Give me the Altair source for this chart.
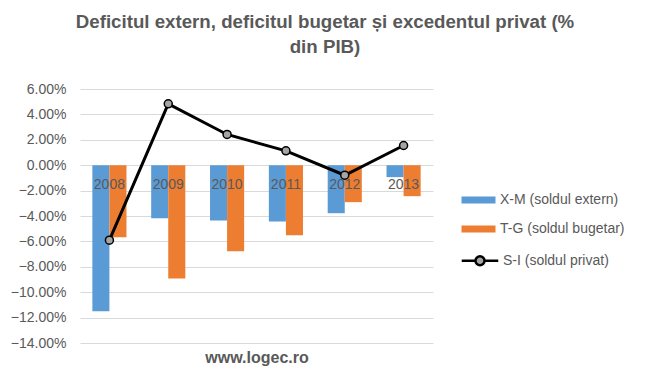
import altair as alt
import pandas as pd

# ---- data (values in % of GDP) ----
years = ["2008", "2009", "2010", "2011", "2012", "2013"]
xm = [-11.5, -4.17, -4.35, -4.43, -3.78, -0.94]   # X-M (soldul extern)
tg = [-5.67, -8.92, -6.77, -5.51, -2.91, -2.44]   # T-G (soldul bugetar)
si = [-5.9, 4.83, 2.42, 1.13, -0.79, 1.55]        # S-I (soldul privat)
bar_names = ["X-M (soldul extern)", "T-G (soldul bugetar)"]
line_name = "S-I (soldul privat)"
y_ticks = [-0.14, -0.12, -0.10, -0.08, -0.06, -0.04, -0.02, 0.0, 0.02, 0.04, 0.06]
title_lines = ["Deficitul extern, deficitul bugetar și excedentul privat (%", "din PIB)"]
source_text = "www.logec.ro"

bar_df = pd.DataFrame(
    [{"year": y, "series": bar_names[0], "value": v / 100} for y, v in zip(years, xm)]
    + [{"year": y, "series": bar_names[1], "value": v / 100} for y, v in zip(years, tg)]
)
line_df = pd.DataFrame({"year": years, "series": line_name, "value": [v / 100 for v in si]})
year_df = pd.DataFrame({"year": years})

GREY = "#595959"
FONT = "Liberation Sans"

x_scale = alt.Scale(paddingInner=0.42, paddingOuter=0.21)
x_axis = alt.Axis(
    labels=False, ticks=False, domain=False, grid=False,
    title=source_text, titleFont=FONT, titleFontSize=16, titleFontWeight="bold",
    titleColor=GREY, titlePadding=6,
)
y_scale = alt.Scale(domain=[-0.14, 0.06], nice=False, zero=False)
y_axis = alt.Axis(
    values=y_ticks, format=".2%", title=None, ticks=False, domain=False,
    labelFont=FONT, labelFontSize=14, labelColor=GREY, labelPadding=14,
    labelOverlap=False,
    grid=True, gridColor="#d9d9d9", gridWidth=1,
)

x_enc = alt.X("year:N", sort=years, scale=x_scale, axis=x_axis)
y_enc = alt.Y("value:Q", scale=y_scale, axis=y_axis)

bars = alt.Chart(bar_df).mark_bar().encode(
    x=x_enc,
    xOffset=alt.XOffset("series:N", sort=bar_names),
    y=y_enc,
    color=alt.Color(
        "series:N",
        scale=alt.Scale(domain=bar_names, range=["#5b9bd5", "#ed7d31"]),
        legend=alt.Legend(
            title=None, orient="none", legendX=390, legendY=102.5,
            symbolType="M-2,-0.41H2V0.41H-2Z", symbolSize=289, symbolStrokeWidth=0,
            labelFont=FONT, labelFontSize=14, labelColor=GREY, labelOffset=13,
            rowPadding=13, padding=0,
        ),
    ),
)

labels = alt.Chart(year_df).mark_text(
    dy=20, baseline="middle", font=FONT, fontSize=14, color=GREY
).encode(
    x=x_enc,
    y=alt.YDatum(0, scale=y_scale, axis=y_axis),
    text=alt.Text("year:N"),
)

line = alt.Chart(line_df).mark_line(strokeWidth=3).encode(
    x=x_enc,
    y=y_enc,
    stroke=alt.Stroke(
        "series:N",
        scale=alt.Scale(domain=[line_name], range=["black"]),
        legend=alt.Legend(
            title=None, orient="none", legendX=390, legendY=161.8,
            symbolType="M-2.15,0H-0.53M0.53,0H2.15M-0.53,0A0.53,0.53 0 1 0 0.53,0A0.53,0.53 0 1 0 -0.53,0Z",
            symbolSize=289, symbolStrokeWidth=2.5,
            symbolFillColor="#a5a5a5", symbolStrokeColor="black", symbolOpacity=1,
            labelFont=FONT, labelFontSize=14, labelColor=GREY, labelOffset=13,
            padding=0,
        ),
    ),
)

points = alt.Chart(line_df).mark_point(
    shape="circle", filled=True, fill="#a5a5a5", stroke="black",
    strokeWidth=1.5, size=64, opacity=1
).encode(x=x_enc, y=y_enc)

chart = alt.layer(bars, labels, line, points).properties(
    width=353,
    height=254,
    padding={"left": 72, "top": 81, "right": 209, "bottom": 40},
    autosize=alt.AutoSizeParams(type="none"),
    title=alt.Title(
        title_lines, font=FONT, fontSize=18.7, fontWeight="bold", color=GREY,
        anchor="middle", frame="group", dx=68.5, offset=25, lineHeight=25,
    ),
).configure_view(strokeWidth=0, stroke="transparent")

chart.save("out.html", embed_options={"renderer": "svg", "actions": False})
